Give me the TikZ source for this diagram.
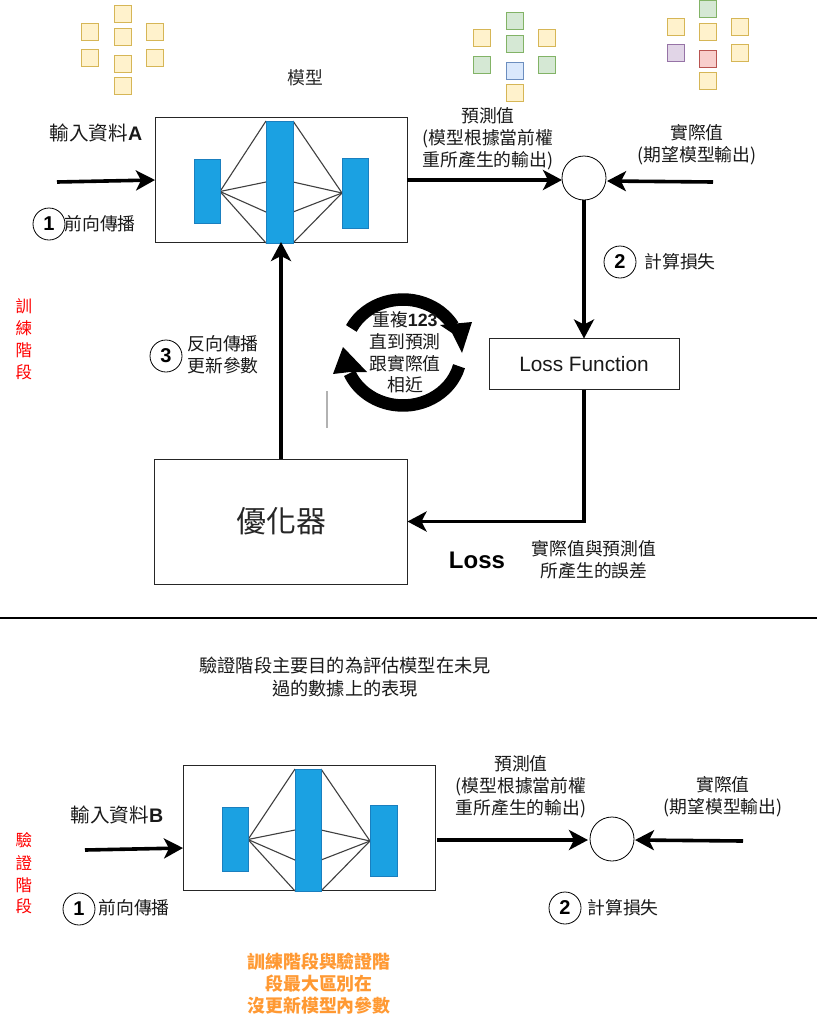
\documentclass[tikz,border=0pt]{standalone}
\usepackage{fontspec}
\setmainfont{Noto Sans CJK TC}
\newfontfamily\lat{Liberation Sans}
\usetikzlibrary{arrows.meta}
\definecolor{ylwF}{HTML}{FFF2CC}\definecolor{ylwD}{HTML}{D6B656}
\definecolor{grnF}{HTML}{D5E8D4}\definecolor{grnD}{HTML}{82B366}
\definecolor{bluF}{HTML}{DAE8FC}\definecolor{bluD}{HTML}{6C8EBF}
\definecolor{purF}{HTML}{E1D5E7}\definecolor{purD}{HTML}{9673A6}
\definecolor{redF}{HTML}{F8CECC}\definecolor{redD}{HTML}{B85450}
\definecolor{layerF}{HTML}{1BA1E2}\definecolor{layerD}{HTML}{1A7FBF}
\definecolor{orangeT}{HTML}{FF9933}
\tikzset{
 sq/.style={rectangle,minimum size=17pt,inner sep=0pt,outer sep=0pt,line width=.9pt},
 ysq/.style={sq,fill=ylwF,draw=ylwD},
 gsq/.style={sq,fill=grnF,draw=grnD},
 bsq/.style={sq,fill=bluF,draw=bluD},
 psq/.style={sq,fill=purF,draw=purD},
 rsq/.style={sq,fill=redF,draw=redD},
 panel/.style={rectangle,draw=black!85,line width=.9pt,fill=white,inner sep=0pt,outer sep=0pt},
 layer/.style={rectangle,fill=layerF,draw=layerD,line width=.7pt,inner sep=0pt,outer sep=0pt,minimum width=26pt},
 link/.style={draw=black!75,line width=1.1pt},
 flow/.style={draw=black,line width=3.6pt,-{Stealth[length=19pt,width=20pt,inset=5pt]}},
 label/.style={inner sep=0pt,align=center,text=black!90,font=\fontsize{17.8}{21.8}\selectfont},
 numc/.style={circle,draw=black,line width=.8pt,minimum size=32pt,inner sep=0pt,outer sep=0pt,font=\lat\bfseries\fontsize{20}{22}\selectfont},
 sumc/.style={circle,draw=black,line width=.8pt,fill=white,minimum size=44pt,inner sep=0pt,outer sep=0pt},
 phase/.style={inner sep=0pt,text=red,font=\fontsize{16.5}{18}\selectfont},
}
\begin{document}
\begin{tikzpicture}[x=1pt,y=-1pt]
\useasboundingbox (0,0) rectangle (819,1017);
% input squares
\node[ysq] (a1) at (90,32) {}; \node[ysq] (a2) at (90,58) {};
\node[ysq] (a3) at (123,14) {}; \node[ysq] (a4) at (123,37) {};
\node[ysq] (a5) at (123,64) {}; \node[ysq] (a6) at (123,86) {};
\node[ysq] (a7) at (155,32) {}; \node[ysq] (a8) at (155,58) {};
% predicted squares
\node[ysq] (b1) at (482,38) {}; \node[gsq] (b2) at (482,65) {};
\node[gsq] (b3) at (515,21) {}; \node[gsq] (b4) at (515,44) {};
\node[bsq] (b5) at (515,71) {}; \node[ysq] (b6) at (515,93) {};
\node[ysq] (b7) at (547,38) {}; \node[gsq] (b8) at (547,65) {};
% actual squares
\node[ysq] (c1) at (676,27) {}; \node[psq] (c2) at (676,53) {};
\node[gsq] (c3) at (708,9) {}; \node[ysq] (c4) at (708,32) {};
\node[rsq] (c5) at (708,59) {}; \node[ysq] (c6) at (708,81) {};
\node[ysq] (c7) at (740,27) {}; \node[ysq] (c8) at (740,53) {};
% model A
\node[panel,minimum width=252pt,minimum height=125pt] (modelA) at (281,179.5) {};
\coordinate (lA) at (220,191.5); \coordinate (rA) at (342,193);
\foreach \yy in {121,182,212,243}{\draw[link] (lA) -- (266,\yy); \draw[link] (rA) -- (293,\yy);}
\node[layer,minimum height=64pt] (l1A) at (207,191) {};
\node[layer,minimum height=122pt,minimum width=27pt] (l2A) at (279.5,182) {};
\node[layer,minimum height=70pt] (l3A) at (355,193) {};
% model B
\node[panel,minimum width=252pt,minimum height=125pt] (modelB) at (309.5,827.5) {};
\coordinate (lB) at (248,839.5); \coordinate (rB) at (370,841);
\foreach \yy in {769,830,860,891}{\draw[link] (lB) -- (295,\yy); \draw[link] (rB) -- (321,\yy);}
\node[layer,minimum height=64pt] (l1B) at (235,839) {};
\node[layer,minimum height=122pt] (l2B) at (308,830) {};
\node[layer,minimum height=71pt,minimum width=27pt] (l3B) at (383.5,840.5) {};
% other blocks
\node[sumc] (sumA) at (584,178) {};
\node[sumc] (sumB) at (612,839) {};
\node[panel,minimum width=190pt,minimum height=51pt,font=\lat\fontsize{20.8}{22}\selectfont,text=black!90] (loss) at (584,364) {Loss Function};
\node[panel,minimum width=253pt,minimum height=125pt,font=\fontsize{30}{32}\selectfont,text=black!85] (opt) at (281,521.5) {優化器};
% connector ends
\coordinate (inA) at (57,182); \coordinate (inAt) at (155,180);
\coordinate (outA) at (407,180); \coordinate (outAt) at (562,180);
\coordinate (realA) at (713,182); \coordinate (realAt) at (607,181);
\coordinate (inB) at (85,850); \coordinate (inBt) at (183,848);
\coordinate (outB) at (437,840); \coordinate (outBt) at (588,840);
\coordinate (realB) at (743,841); \coordinate (realBt) at (635,840);
% connectors
\draw[flow] (inA) -- (inAt);
\draw[flow] (outA) -- (outAt);
\draw[flow] (realA) -- (realAt);
\draw[flow] (sumA.south) -- (loss.north);
\draw[flow,line join=miter] (loss.south) |- (opt.east);
\draw[flow] (opt.north) -- (modelA.south);
\draw[flow] (inB) -- (inBt);
\draw[flow] (outB) -- (outBt);
\draw[flow] (realB) -- (realBt);
% divider
\coordinate (divL) at (0,618); \coordinate (divR) at (817,618);
\draw[line width=1.4pt] (divL) -- (divR);
% cycle
\coordinate (cyc) at (403,352.5);
\draw[line width=12.5pt] (cyc) ++(153:58pt and 53pt) arc[start angle=153,end angle=30,x radius=58pt,y radius=53pt];
\fill (440,325) -- (472,322) -- (462,353) -- (452,333) -- cycle;
\draw[line width=12.5pt] (cyc) ++(-15:58pt and 53pt) arc[start angle=-15,end angle=-157,x radius=58pt,y radius=53pt];
\fill (343,347) -- (367,372) -- (350,372) -- (333,374) -- cycle;
\fill[black!30] (325.5,391) rectangle (327.5,428);
\node[label] (cycT) at (405,352.5) {重複{\lat\bfseries 123}\\直到預測\\跟實際值\\相近};
% labels
\node[label,text=black!85] (tModel) at (305,78) {模型};
\node[label,font=\fontsize{19.6}{22}\selectfont] (tInA) at (96,133) {輸入資料{\lat\bfseries A}};
\node[numc] (n1A) at (49,224) {1};
\node[label] (tFwA) at (100,224) {前向傳播};
\node[label] (tPredA) at (488,139) {預測值\\(模型根據當前權\\重所產生的輸出)};
\node[label] (tRealA) at (697,145) {實際值\\(期望模型輸出)};
\node[numc] (n2A) at (620,262) {2};
\node[label] (tCalcA) at (680,262) {計算損失};
\node[numc] (n3A) at (166,356) {3};
\node[label] (tBack) at (223,355) {反向傳播\\更新參數};
\node[inner sep=0pt,font=\lat\bfseries\fontsize{24}{26}\selectfont] (tLoss) at (477,560) {Loss};
\node[label] (tLossD) at (594,560) {實際值與預測值\\所產生的誤差};
\node[phase] (p1) at (24,306) {訓};
\node[phase] (p2) at (24,328) {練};
\node[phase] (p3) at (24,350) {階};
\node[phase] (p4) at (24,372) {段};
\node[label,font=\fontsize{18.2}{22.5}\selectfont] (tIntro) at (345,677) {驗證階段主要目的為評估模型在未見\\過的數據上的表現};
\node[label,font=\fontsize{19.6}{22}\selectfont] (tInB) at (117,815) {輸入資料{\lat\bfseries B}};
\node[numc] (n1B) at (79,909) {1};
\node[label] (tFwB) at (134,908) {前向傳播};
\node[label] (tPredB) at (521,787) {預測值\\(模型根據當前權\\重所產生的輸出)};
\node[label] (tRealB) at (723,797) {實際值\\(期望模型輸出)};
\node[numc] (n2B) at (565,908) {2};
\node[label] (tCalcB) at (623,908) {計算損失};
\node[phase] (q1) at (24,840) {驗};
\node[phase] (q2) at (24,863) {證};
\node[phase] (q3) at (24,885) {階};
\node[phase] (q4) at (24,906) {段};
\node[label,text=orangeT,font=\bfseries\fontsize{17.9}{22}\selectfont] (tDiff) at (319,984) {訓練階段與驗證階\\段最大區別在\\沒更新模型內參數};
\end{tikzpicture}
\end{document}
